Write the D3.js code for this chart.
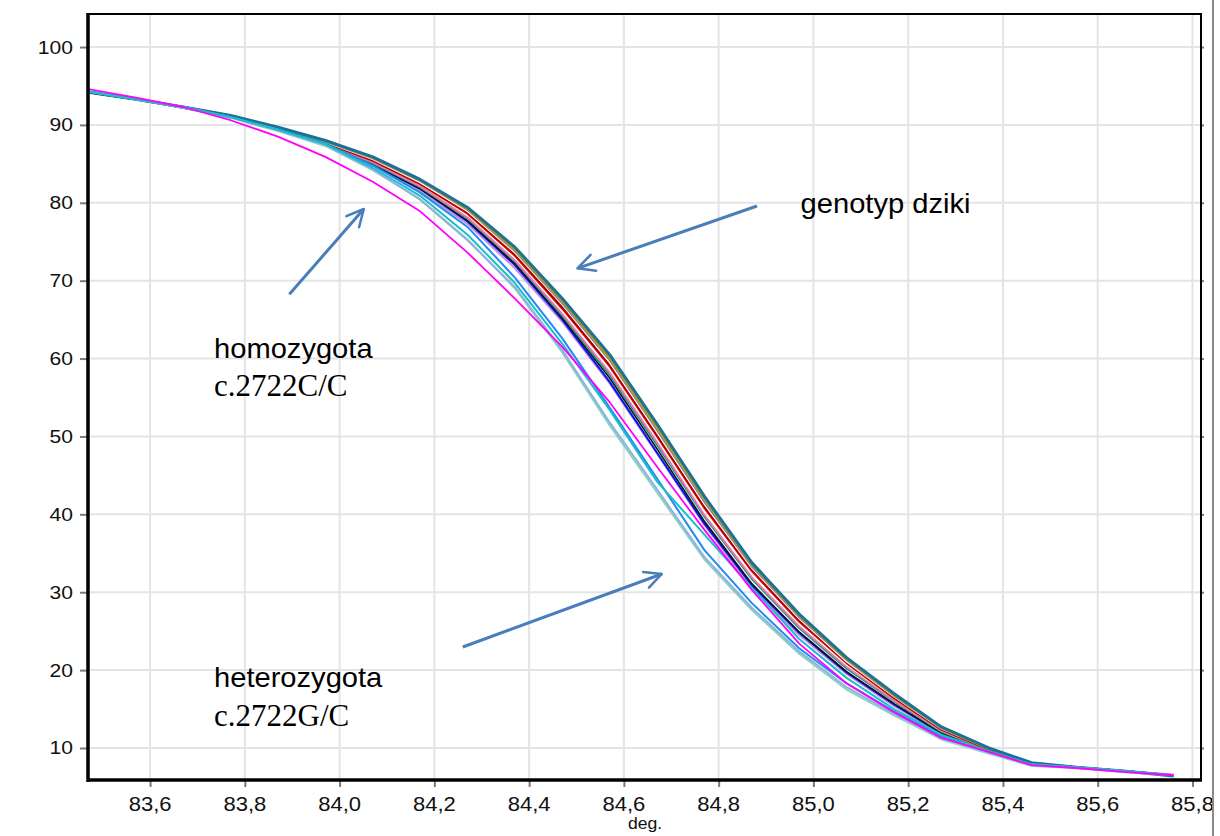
<!DOCTYPE html>
<html>
<head>
<meta charset="utf-8">
<script src="https://cdn.jsdelivr.net/npm/d3@7"></script>
<style>
  body { margin: 0; background: #fff; }
  svg { display: block; }
</style>
</head>
<body>
<svg width="1220" height="836"></svg>
<script>
// temperatury (oś X) i odczyty fluorescencji dla każdej próbki
const temps = [83.47, 83.57, 83.67, 83.77, 83.87, 83.97, 84.07, 84.17, 84.27, 84.37, 84.47, 84.57,
               84.67, 84.77, 84.87, 84.97, 85.07, 85.17, 85.27, 85.37, 85.46, 85.56, 85.66, 85.76];

// genotyp dziki
const wtLawenda = [94.3, 93.3, 92.2, 91.0, 89.3, 87.4, 84.8, 81.5, 77.3, 71.6, 64.7, 56.8, 47.8, 38.6, 30.6, 24.5, 19.5, 15.4, 11.8, 9.6, 7.9, 7.5, 7.0, 6.5];
const wtNiebieski = [94.2, 93.3, 92.2, 91.0, 89.4, 87.5, 84.9, 81.8, 77.6, 72.0, 65.0, 57.0, 47.9, 38.8, 30.9, 24.8, 19.7, 15.6, 11.9, 9.6, 7.9, 7.5, 7.0, 6.5];
const wtCzarny = [94.2, 93.3, 92.2, 91.0, 89.4, 87.5, 85.0, 81.8, 77.7, 72.2, 65.2, 57.5, 48.4, 39.1, 31.1, 24.9, 19.8, 15.7, 11.9, 9.6, 7.9, 7.5, 7.0, 6.5];
const wtMorski = [94.2, 93.3, 92.2, 91.0, 89.5, 87.6, 85.1, 82.0, 78.0, 72.5, 65.5, 57.9, 48.9, 39.7, 31.7, 25.4, 20.2, 16.0, 12.1, 9.7, 7.9, 7.5, 7.0, 6.5];
const wtRozowy = [94.2, 93.3, 92.2, 91.0, 89.5, 87.6, 85.2, 82.1, 78.1, 72.6, 65.7, 58.2, 49.2, 39.9, 31.9, 25.6, 20.4, 16.1, 12.2, 9.7, 7.9, 7.5, 7.0, 6.5];
const wtCzerwony = [94.2, 93.3, 92.3, 91.1, 89.6, 87.7, 85.4, 82.4, 78.6, 73.2, 66.4, 59.0, 50.0, 40.8, 32.7, 26.2, 20.9, 16.4, 12.4, 9.8, 8.0, 7.5, 7.0, 6.5];
const wtBordo = [94.2, 93.3, 92.3, 91.1, 89.6, 87.7, 85.5, 82.5, 78.8, 73.4, 66.6, 59.2, 50.2, 41.0, 32.9, 26.4, 21.0, 16.5, 12.4, 9.8, 8.0, 7.5, 7.0, 6.5];
const wtBraz = [94.2, 93.3, 92.3, 91.1, 89.6, 87.8, 85.6, 82.7, 79.0, 73.7, 67.0, 59.6, 50.6, 41.4, 33.2, 26.7, 21.2, 16.7, 12.5, 9.9, 8.0, 7.5, 7.0, 6.5];
const wtBialy = [94.2, 93.3, 92.3, 91.1, 89.6, 87.8, 85.6, 82.6, 78.9, 73.6, 66.9, 59.5, 50.5, 41.3, 33.1, 26.6, 21.1, 16.6, 12.5, 9.9, 8.0, 7.5, 7.0, 6.5];
const wtSzary = [94.2, 93.3, 92.3, 91.2, 89.7, 87.9, 85.7, 82.8, 79.1, 73.8, 67.1, 59.8, 50.8, 41.6, 33.3, 26.8, 21.3, 16.7, 12.6, 9.9, 8.1, 7.5, 7.0, 6.5];
const wtOliwka = [94.2, 93.3, 92.3, 91.2, 89.7, 87.9, 85.8, 82.9, 79.2, 74.0, 67.4, 60.1, 51.2, 42.0, 33.6, 27.0, 21.4, 16.8, 12.6, 9.9, 8.1, 7.5, 7.0, 6.5];
const wtTurkus = [94.2, 93.3, 92.3, 91.2, 89.7, 88.0, 85.9, 83.0, 79.4, 74.3, 67.7, 60.5, 51.6, 42.3, 33.8, 27.2, 21.6, 17.0, 12.7, 10.0, 8.1, 7.5, 7.0, 6.4];

// homozygota c.2722C/C
const homoMagenta = [94.6, 93.5, 92.3, 90.6, 88.5, 85.9, 82.7, 78.9, 73.6, 67.7, 61.5, 54.4, 46.1, 38.0, 30.3, 23.4, 18.3, 14.6, 11.3, 9.5, 7.8, 7.4, 6.9, 6.5];

// heterozygota c.2722G/C
const hetCyjan = [94.3, 93.3, 92.3, 91.0, 89.4, 87.5, 84.5, 80.9, 75.9, 69.7, 61.9, 53.4, 44.2, 37.4, 30.6, 24.0, 19.0, 15.0, 11.7, 9.6, 7.9, 7.5, 7.0, 6.5];
const hetBlekit = [94.3, 93.3, 92.3, 91.0, 89.4, 87.6, 84.8, 81.3, 76.9, 70.4, 62.6, 53.7, 44.6, 35.4, 28.6, 22.8, 18.3, 14.7, 11.5, 9.5, 7.9, 7.5, 7.0, 6.5];
const hetSzaroNieb = [94.3, 93.3, 92.3, 91.0, 89.3, 87.4, 84.3, 80.4, 75.2, 69.2, 61.1, 51.8, 43.2, 34.5, 28.0, 22.4, 17.8, 14.4, 11.3, 9.4, 7.8, 7.5, 7.0, 6.6];
const hetAkwamaryn = [94.3, 93.3, 92.2, 90.9, 89.2, 87.3, 84.2, 80.5, 75.3, 69.0, 60.8, 51.4, 42.8, 34.2, 27.7, 22.1, 17.5, 14.2, 11.1, 9.3, 7.7, 7.4, 6.9, 6.5];

const xTicks = [83.6, 83.8, 84.0, 84.2, 84.4, 84.6, 84.8, 85.0, 85.2, 85.4, 85.6, 85.8];
const yTicks = [10, 20, 30, 40, 50, 60, 70, 80, 90, 100];

// kolejność rysowania
const serie = [wtLawenda, wtNiebieski, wtCzarny, wtMorski, wtRozowy, wtCzerwony, wtBordo, wtBraz,
               wtBialy, wtSzary, wtOliwka, wtTurkus, hetAkwamaryn, hetSzaroNieb, hetBlekit, hetCyjan, homoMagenta];
const kolory = ['#c48ee6', '#0b12f0', '#111111', '#00998c', '#e87aa6', '#e8000b', '#a50000', '#9a5b2a',
                '#ffffff', '#8c8c8c', '#b89c00', '#1c7194', '#86d4c6', '#91b2d8', '#1f8cf5', '#19bec9', '#ff00ff'];
const grubosci = [2, 2, 1.6, 2, 2, 2, 2, 2, 1.6, 2, 2, 3, 2, 2, 2, 2, 1.8];

const svg = d3.select('svg');
const largura = parseFloat(svg.attr('width'));
const altura = parseFloat(svg.attr('height'));

svg.append('rect').attr('width', largura).attr('height', altura).attr('fill', '#fff');

const lewo = 88, prawo = 1201, gora = 14, dol = 780;

const x = d3.scaleLinear().domain([83.469, 85.818]).range([lewo, prawo]);
const y = d3.scaleLinear().domain([5.89, 104.24]).range([dol, gora]);

// siatka
svg.append('g').selectAll('line').data(xTicks).join('line')
    .attr('x1', d => x(d)).attr('x2', d => x(d))
    .attr('y1', gora).attr('y2', dol)
    .attr('stroke', '#e4e4e4').attr('stroke-width', 2);
svg.append('g').selectAll('line').data(yTicks).join('line')
    .attr('x1', lewo).attr('x2', prawo)
    .attr('y1', d => y(d)).attr('y2', d => y(d))
    .attr('stroke', '#e4e4e4').attr('stroke-width', 2);

// kreski osi
const osX = svg.append('g')
    .attr('transform', `translate(0,${dol})`)
    .call(d3.axisBottom(x).tickValues(xTicks).tickSize(7).tickFormat(''));
const osY = svg.append('g')
    .attr('transform', `translate(${lewo},0)`)
    .call(d3.axisLeft(y).tickValues(yTicks).tickSize(8).tickFormat(''));
const osYPrawa = svg.append('g')
    .attr('transform', `translate(${prawo},0)`)
    .call(d3.axisRight(y).tickValues(yTicks).tickSize(3).tickFormat(''));
[osX, osY, osYPrawa].forEach(o => {
    o.select('.domain').remove();
    o.selectAll('.tick line').attr('stroke', '#7a7a7a').attr('stroke-width', 2);
});

// krzywe topnienia
const linia = d3.line()
    .x((d, i) => x(temps[i]))
    .y(d => y(d));

svg.append('g').selectAll('path').data(serie).join('path')
    .attr('d', linia)
    .attr('fill', 'none')
    .attr('stroke', (d, i) => kolory[i])
    .attr('stroke-width', (d, i) => grubosci[i])
    .attr('stroke-linejoin', 'round');

// ramka
svg.append('line').attr('x1', lewo).attr('x2', prawo).attr('y1', gora).attr('y2', gora)
    .attr('stroke', '#000').attr('stroke-width', 2);
svg.append('line').attr('x1', prawo).attr('x2', prawo).attr('y1', gora - 1).attr('y2', dol)
    .attr('stroke', '#000').attr('stroke-width', 2);
svg.append('line').attr('x1', lewo).attr('x2', lewo).attr('y1', gora - 1).attr('y2', dol + 2)
    .attr('stroke', '#000').attr('stroke-width', 3.5);
svg.append('line').attr('x1', lewo - 1).attr('x2', prawo + 1).attr('y1', dol).attr('y2', dol)
    .attr('stroke', '#000').attr('stroke-width', 3.5);

// opisy osi
svg.append('g').selectAll('text').data(xTicks).join('text')
    .attr('transform', d => `translate(${x(d)},811) scale(1.13,1)`)
    .attr('text-anchor', 'middle')
    .attr('font-family', 'Liberation Sans, Arial, sans-serif')
    .attr('font-size', 19.5)
    .attr('fill', '#111')
    .text(d => d3.format('.1f')(d).replace('.', ','));

svg.append('g').selectAll('text').data(yTicks).join('text')
    .attr('transform', d => `translate(73,${y(d) + 6.5}) scale(1.14,1)`)
    .attr('text-anchor', 'end')
    .attr('font-family', 'Liberation Sans, Arial, sans-serif')
    .attr('font-size', 18.5)
    .attr('fill', '#111')
    .text(d => d);

svg.append('text')
    .attr('transform', 'translate(645,829) scale(1.1,1)')
    .attr('text-anchor', 'middle')
    .attr('font-family', 'Liberation Sans, Arial, sans-serif')
    .attr('font-size', 16)
    .attr('fill', '#111')
    .text('deg.');

// pionowa szara linia przy prawej krawędzi
svg.append('line').attr('x1', 1213).attr('x2', 1213).attr('y1', 0).attr('y2', altura)
    .attr('stroke', '#8a8a8a').attr('stroke-width', 2);

// strzałki
const niebieskiStrz = '#4a7ebb';
svg.append('defs').append('marker')
    .attr('id', 'grot')
    .attr('viewBox', '0 0 10 10')
    .attr('refX', 9).attr('refY', 5)
    .attr('markerWidth', 7).attr('markerHeight', 7)
    .attr('orient', 'auto')
    .append('path')
        .attr('d', 'M1,1 L9,5 L1,9')
        .attr('fill', 'none')
        .attr('stroke', niebieskiStrz)
        .attr('stroke-width', 1.2)
        .attr('stroke-linecap', 'round')
        .attr('stroke-linejoin', 'round');

const strzalki = [
    [[83.894, 68.25], [84.051, 79.2]],
    [[84.881, 79.59], [84.502, 71.59]],
    [[84.260, 22.97], [84.680, 32.34]]
];
svg.append('g').selectAll('line').data(strzalki).join('line')
    .attr('x1', d => x(d[0][0])).attr('y1', d => y(d[0][1]))
    .attr('x2', d => x(d[1][0])).attr('y2', d => y(d[1][1]))
    .attr('stroke', niebieskiStrz)
    .attr('stroke-width', 3)
    .attr('marker-end', 'url(#grot)');

// podpisy grup
const sans = 'Liberation Sans, Arial, sans-serif';
const serif = 'Liberation Serif, Times New Roman, serif';
const podpisy = [
    { t: 'genotyp dziki', px: 84.973, py: 78.69, f: sans, s: 28 },
    { t: 'homozygota', px: 83.735, py: 60.07, f: sans, s: 28 },
    { t: 'c.2722C/C', px: 83.735, py: 55.19, f: serif, s: 31 },
    { t: 'heterozygota', px: 83.735, py: 17.83, f: sans, s: 28 },
    { t: 'c.2722G/C', px: 83.735, py: 12.83, f: serif, s: 31 }
];
svg.append('g').selectAll('text').data(podpisy).join('text')
    .attr('transform', d => `translate(${x(d.px)},${y(d.py)}) scale(${d.f === sans ? 1.04 : 1},1)`)
    .attr('font-family', d => d.f)
    .attr('font-size', d => d.s)
    .attr('fill', '#000')
    .text(d => d.t);
</script>
</body>
</html>
